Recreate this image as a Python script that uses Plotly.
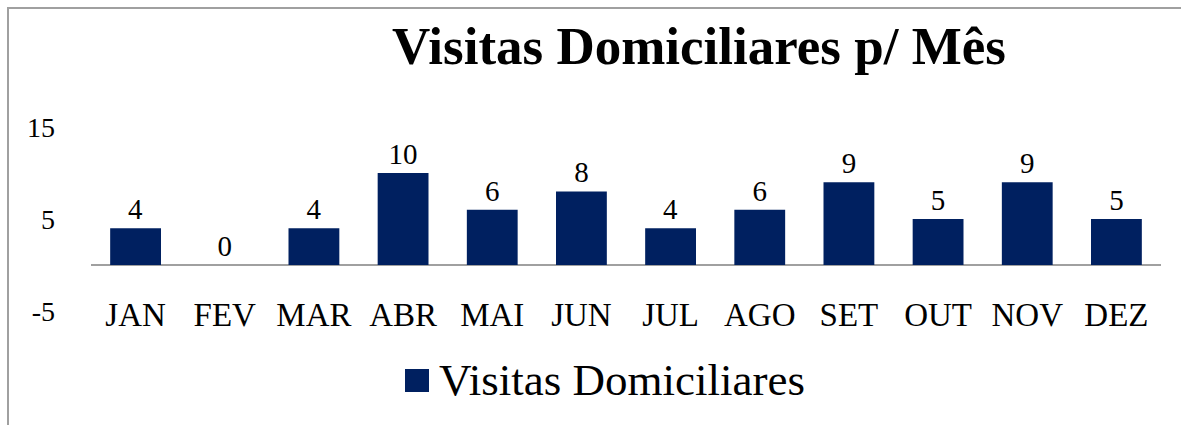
import plotly.graph_objects as go

months = ["JAN", "FEV", "MAR", "ABR", "MAI", "JUN", "JUL", "AGO", "SET", "OUT", "NOV", "DEZ"]
visitas = [4, 0, 4, 10, 6, 8, 4, 6, 9, 5, 9, 5]
series_name = "Visitas Domiciliares"
title_text = "Visitas Domiciliares p/ Mês"
y_ticks = [-5, 5, 15]

W, H = 1181, 425
L, R = 91, 1161      # plot area left/right px
T, B = 127, 311      # plot area top/bottom px (y=15 / y=-5)
FONT = "Liberation Serif"
NAVY = "#002060"
GRAY = "#A0A0A0"


def px_x(px):
    return (px - L) / (R - L)


def px_y(py):
    return (B - py) / (B - T)


fig = go.Figure()
fig.add_trace(go.Bar(
    x=months, y=visitas, name=series_name,
    marker=dict(color=NAVY, line=dict(width=0)),
    width=0.57,
    text=[str(v) for v in visitas], textposition="outside",
    textfont=dict(family=FONT, size=29, color="#000000"),
    cliponaxis=False, showlegend=False, hoverinfo="skip",
))

fig.update_layout(
    width=W, height=H,
    margin=dict(l=L, r=W - R, t=T, b=H - B, pad=0),
    paper_bgcolor="white", plot_bgcolor="white",
    font=dict(family=FONT, color="#000000"),
    xaxis=dict(
        anchor="free", position=px_y(292),
        showline=False, showgrid=False, zeroline=False, ticks="",
        tickfont=dict(family=FONT, size=33, color="#000000"),
    ),
    yaxis=dict(
        range=[-5, 15], tickvals=y_ticks, ticktext=[str(v) for v in y_ticks],
        showgrid=False, showline=False, ticks="",
        zeroline=True, zerolinecolor=GRAY, zerolinewidth=2,
        tickfont=dict(family=FONT, size=28, color="#000000"),
        ticklabelstandoff=35,
    ),
    shapes=[
        # chart frame (left and top edges visible)
        dict(type="rect", xref="paper", yref="paper",
             x0=px_x(8), x1=px_x(1200), y0=px_y(8), y1=px_y(450),
             line=dict(color=GRAY, width=2), fillcolor="rgba(0,0,0,0)", layer="below"),
        # legend swatch
        dict(type="rect", xref="paper", yref="paper",
             x0=px_x(405), x1=px_x(429), y0=px_y(369), y1=px_y(392),
             line=dict(width=0), fillcolor=NAVY),
    ],
    annotations=[
        dict(text="<b>" + title_text + "</b>", xref="paper", yref="paper",
             x=px_x(699), y=px_y(46), xanchor="center", yanchor="middle",
             showarrow=False, font=dict(family=FONT, size=53, color="#000000")),
        dict(text=series_name, xref="paper", yref="paper",
             x=px_x(437), y=px_y(380), xanchor="left", yanchor="middle",
             showarrow=False, font=dict(family=FONT, size=45, color="#000000")),
    ],
)

fig.write_html("out.html", config={"displayModeBar": False},
               post_script="document.body.style.margin='0';")
